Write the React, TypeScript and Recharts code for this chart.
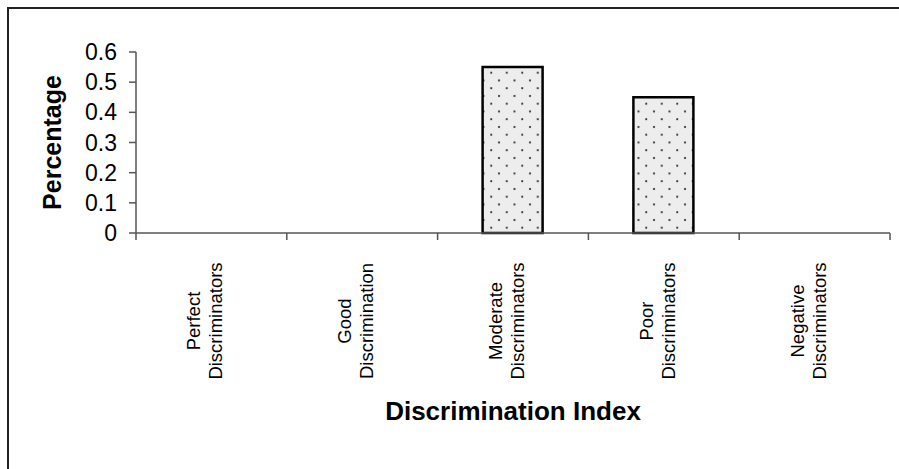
import React from "react";
import { BarChart, Bar, XAxis, YAxis } from "recharts";

const categories = [
  ["Perfect", "Discriminators"],
  ["Good", "Discrimination"],
  ["Moderate", "Discriminators"],
  ["Poor", "Discriminators"],
  ["Negative", "Discriminators"],
];
const percentages = [0, 0, 0.55, 0.45, 0];
const yTicks = [0, 0.1, 0.2, 0.3, 0.4, 0.5, 0.6];

const data = categories.map((lines, i) => ({ name: lines.join(" "), value: percentages[i] }));

const FONT = "'Liberation Sans', Arial, sans-serif";
const TICK = 7;

// category labels + tick marks on the band edges (Excel style)
function CategoryTick(props: any) {
  const { x, y, payload, width, index } = props;
  const idx = categories.findIndex((c) => c.join(" ") === payload.value);
  const lines = categories[idx] || [payload.value];
  const half = width / categories.length / 2;
  const axisY = y - TICK;
  const cy = y + 81;
  return (
    <g>
      <line x1={x - half} x2={x - half} y1={axisY} y2={axisY + TICK} stroke="#555" strokeWidth={1.5} />
      {index === categories.length - 1 && (
        <line x1={x + half} x2={x + half} y1={axisY} y2={axisY + TICK} stroke="#555" strokeWidth={1.5} />
      )}
      {lines.map((line, i) => {
        const bx = x - 11 + i * 22;
        return (
          <text
            key={i}
            x={bx}
            y={cy}
            transform={`rotate(-90, ${bx}, ${cy})`}
            textAnchor="middle"
            fontSize={18.5}
            fontFamily={FONT}
            fill="#000"
          >
            {line}
          </text>
        );
      })}
    </g>
  );
}

function YTitle(props: any) {
  const vb = props.viewBox || {};
  const cy = vb.y + vb.height / 2;
  return (
    <text
      x={52}
      y={cy}
      transform={`rotate(-90, 52, ${cy})`}
      textAnchor="middle"
      dominantBaseline="central"
      fontSize={25}
      fontWeight="bold"
      fontFamily={FONT}
      fill="#000"
    >
      Percentage
    </text>
  );
}

function XTitle(props: any) {
  const vb = props.viewBox || {};
  const cx = vb.x + vb.width / 2;
  return (
    <text
      x={cx}
      y={vb.y + 187}
      textAnchor="middle"
      fontSize={26}
      fontWeight="bold"
      fontFamily={FONT}
      fill="#000"
    >
      Discrimination Index
    </text>
  );
}

export default function App() {
  return (
    <div style={{ position: "absolute", left: 0, top: 0, width: 899, height: 469, overflow: "hidden", background: "#fff" }}>
      <div
        style={{
          position: "absolute",
          left: 7,
          top: 7,
          width: 920,
          height: 490,
          borderLeft: "2px solid #222",
          borderTop: "2px solid #222",
        }}
      />
      <div style={{ position: "absolute", left: 0, top: 0 }}>
        <BarChart
          width={899}
          height={469}
          data={data}
          margin={{ top: 52, right: 9, left: 0, bottom: 0 }}
        >
          <defs>
            <pattern id="dots" width={15.5} height={15.5} patternUnits="userSpaceOnUse">
              <rect width={15.5} height={15.5} fill="#ededed" />
              <circle cx={3} cy={3} r={1.05} fill="#222" />
              <circle cx={10.75} cy={10.75} r={1.05} fill="#222" />
            </pattern>
          </defs>
          <XAxis
            dataKey="name"
            height={236}
            axisLine={{ stroke: "#555", strokeWidth: 1.5 }}
            tickLine={false}
            tickSize={TICK}
            tickMargin={0}
            interval={0}
            tick={<CategoryTick />}
            label={<XTitle />}
          />
          <YAxis
            width={136}
            domain={[0, 0.6]}
            ticks={yTicks}
            tickSize={7}
            tickMargin={12}
            interval={0}
            axisLine={{ stroke: "#555", strokeWidth: 1.5 }}
            tickLine={{ stroke: "#555", strokeWidth: 1.5 }}
            tick={{ fill: "#000", fontSize: 23, fontFamily: FONT }}
            label={<YTitle />}
          />
          <Bar
            dataKey="value"
            fill="url(#dots)"
            stroke="#000"
            strokeWidth={2.5}
            barSize={60}
            isAnimationActive={false}
          />
        </BarChart>
      </div>
    </div>
  );
}
